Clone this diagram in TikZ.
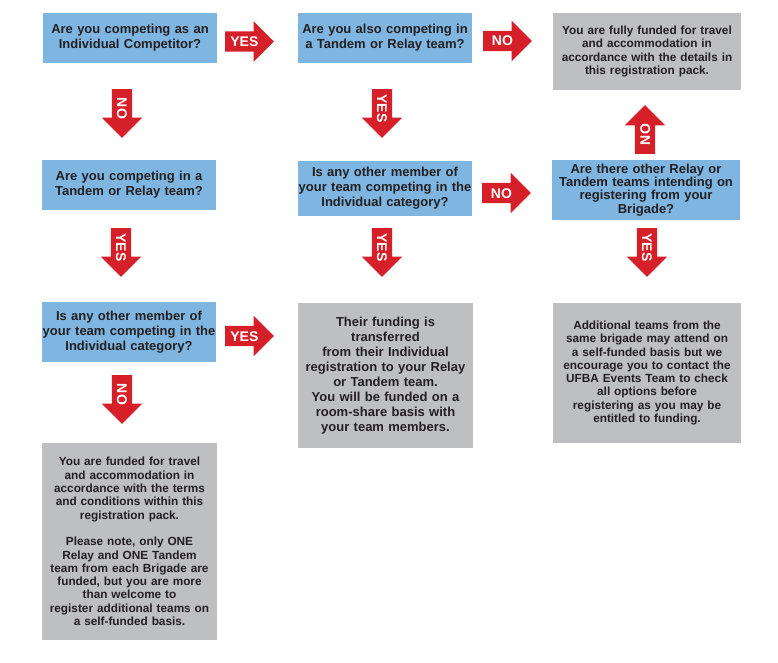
\documentclass[tikz,border=0pt]{standalone}
\usepackage{fontspec}
\setmainfont{Liberation Sans}
\usetikzlibrary{shapes.arrows}
\definecolor{qblue}{RGB}{126,182,225}
\definecolor{agrey}{RGB}{190,191,193}
\definecolor{ured}{RGB}{213,32,41}
\definecolor{ink}{RGB}{35,31,32}
\tikzset{
	every node/.style = {text=ink},
	question/.style = {fill=qblue, text width=174pt, minimum width=174pt, inner xsep=0pt, inner ysep=0pt, align=center, font=\bfseries\fontsize{13}{15}\selectfont},
	answer/.style = {fill=agrey, text width=172pt, inner xsep=1pt, inner ysep=0pt, align=center, font=\bfseries\fontsize{11.8}{13.3}\selectfont},
	yesno/.style = {single arrow, fill=ured, text=white, single arrow head extend=10pt, inner xsep=5pt, inner ysep=5pt, text width=28pt, text height=10pt, text depth=0pt, align=center, anchor=tail, font=\bfseries\fontsize{14}{14}\selectfont}
}

\begin{document}
\begin{tikzpicture}[x=1pt, y=-1pt]
		\useasboundingbox (0,0) rectangle (778,663);
		% questions
		\node[question, minimum height=50pt] (q1) at (130,38) {Are you competing as an\\Individual Competitor?};
		\node[question, minimum height=50pt] (q2) at (385,38) {Are you also competing in\\a Tandem or Relay team?};
		\node[question, minimum height=50pt] (q4) at (129,185) {Are you competing in a\\Tandem or Relay team?};
		\node[question, minimum height=55pt] (q6) at (385,188.5) {Is any other member of\\your team competing in the\\Individual category?};
		\node[question, minimum height=60pt, text width=188pt, minimum width=188pt, font=\bfseries\fontsize{13}{13.3}\selectfont] (q3) at (646,190) {Are there other Relay or\\Tandem teams intending on\\registering from your\\Brigade?};
		\node[question, minimum height=60pt] (q5) at (129,332) {Is any other member of\\your team competing in the\\Individual category?};
		
		% answers
		\node[answer, minimum height=77pt, text width=186pt] (r1) at (647,51.5) {You are fully funded for travel\\and accommodation in\\accordance with the details in\\this registration pack.};
		\node[answer, minimum height=140pt, text width=186pt] (r2) at (647,373) {Additional teams from the\\same brigade may attend on\\a self-funded basis but we\\encourage you to contact the\\UFBA Events Team to check\\all options before\\registering as you may be\\entitled to funding.};
		\node[answer, minimum height=145pt, text width=173pt, font=\bfseries\fontsize{13}{15}\selectfont] (r4) at (385.5,375.5) {Their funding is\\transferred\\from their Individual\\registration to your Relay\\or Tandem team.\\You will be funded on a\\room-share basis with\\your team members.};
		\node[answer, minimum height=197pt, text width=173pt] (r3) at (129.5,541.5) {You are funded for travel\\and accommodation in\\accordance with the terms\\and conditions within this\\registration pack.\\[13.3pt]Please note, only ONE\\Relay and ONE Tandem\\team from each Brigade are\\funded, but you are more\\than welcome to\\register additional teams on\\a self-funded basis.};
		
		% arrows across
		\node[yesno] (a1) at (225,41.5) {YES};
		\node[yesno] (a2) at (483,41) {NO};
		\node[yesno] (a7) at (482,193) {NO};
		\node[yesno] (a9) at (225,336) {YES};
		
		% arrows down and up
		\node[yesno, rotate=-90] (a3) at (122,89) {NO};
		\node[yesno, rotate=-90] (a4) at (382,89) {YES};
		\node[yesno, rotate=-90] (a6) at (121,228) {YES};
		\node[yesno, rotate=-90] (a8) at (382,228) {YES};
		\node[yesno, rotate=-90] (a10) at (647,228) {YES};
		\node[yesno, rotate=-90] (a11) at (122,375) {NO};
		\node[yesno, rotate=90] (a5) at (645,154) {NO};
	\end{tikzpicture}
\end{document}
